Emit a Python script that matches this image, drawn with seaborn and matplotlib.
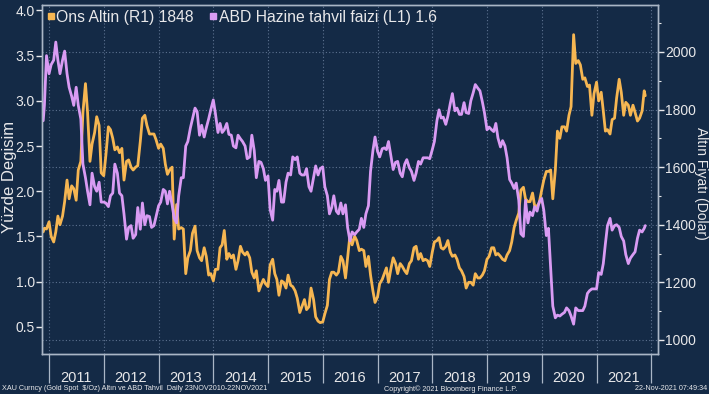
import numpy as np
import pandas as pd
import matplotlib
matplotlib.use("Agg")
import matplotlib.pyplot as plt
import matplotlib.dates as mdates
from matplotlib.lines import Line2D
from matplotlib.ticker import FixedLocator, MultipleLocator, FormatStrFormatter, NullFormatter
import seaborn as sns

# ---------------- data (semi-monthly readings: 1st & 15th) ----------------
# US 10Y Treasury yield (left axis)
tsy_2010 = [2.78, 2.95, 3.50]  # 23 Nov, 1 Dec, 15 Dec
tsy_2011 = [3.30, 3.40, 3.45, 3.65, 3.45, 3.30, 3.45, 3.55, 3.30, 3.15, 3.05, 2.95,
            3.15, 2.95, 2.80, 2.30, 2.15, 2.00, 1.85, 2.20, 2.05, 2.00, 2.10, 1.88]
tsy_2012 = [1.88, 1.87, 1.83, 1.95, 1.98, 2.30, 2.20, 1.98, 1.95, 1.75, 1.47, 1.60,
            1.62, 1.48, 1.52, 1.82, 1.58, 1.87, 1.63, 1.73, 1.72, 1.60, 1.62, 1.72]
tsy_2013 = [1.84, 1.88, 2.02, 2.00, 1.86, 2.00, 1.85, 1.70, 1.65, 1.95, 2.15, 2.15,
            2.50, 2.55, 2.70, 2.80, 2.92, 2.88, 2.62, 2.73, 2.60, 2.70, 2.80, 2.90]
tsy_2014 = [3.01, 2.86, 2.65, 2.75, 2.65, 2.68, 2.75, 2.63, 2.62, 2.50, 2.48, 2.62,
            2.58, 2.55, 2.50, 2.36, 2.38, 2.62, 2.45, 2.15, 2.33, 2.32, 2.25, 2.12]
tsy_2015 = [2.17, 1.80, 1.68, 2.02, 2.00, 2.12, 1.88, 1.88, 2.10, 2.20, 2.18, 2.38,
            2.35, 2.38, 2.20, 2.18, 2.18, 2.25, 2.05, 2.00, 2.15, 2.28, 2.18, 2.25]
tsy_2016 = [2.27, 2.05, 1.95, 1.75, 1.82, 1.95, 1.78, 1.75, 1.87, 1.75, 1.85, 1.60,
            1.45, 1.55, 1.52, 1.55, 1.58, 1.70, 1.60, 1.75, 1.84, 2.22, 2.45, 2.60]
tsy_2017 = [2.44, 2.38, 2.47, 2.48, 2.46, 2.55, 2.38, 2.24, 2.32, 2.33, 2.20, 2.16,
            2.30, 2.35, 2.26, 2.22, 2.12, 2.20, 2.33, 2.30, 2.37, 2.37, 2.37, 2.36]
tsy_2018 = [2.46, 2.55, 2.78, 2.90, 2.81, 2.82, 2.74, 2.83, 2.97, 3.08, 2.89, 2.92,
            2.85, 2.85, 2.98, 2.87, 2.86, 3.00, 3.09, 3.18, 3.14, 3.11, 2.99, 2.87]
tsy_2019 = [2.68, 2.71, 2.68, 2.66, 2.75, 2.59, 2.49, 2.56, 2.50, 2.37, 2.13, 2.09,
            2.03, 2.09, 1.90, 1.53, 1.50, 1.90, 1.65, 1.77, 1.73, 1.83, 1.78, 1.88]
tsy_2020 = [1.92, 1.79, 1.51, 1.59, 1.15, 0.73, 0.60, 0.63, 0.62, 0.64, 0.66, 0.71,
            0.68, 0.62, 0.53, 0.71, 0.68, 0.68, 0.68, 0.73, 0.87, 0.90, 0.92, 0.92]
tsy_2021 = [0.92, 1.10, 1.08, 1.20, 1.42, 1.62, 1.70, 1.57, 1.62, 1.63, 1.60, 1.50,
            1.45, 1.30, 1.20, 1.26, 1.30, 1.33, 1.48, 1.57, 1.55, 1.59, 1.62]  # .. 22 Nov

# Gold spot, USD/oz (right axis)
gold_2010 = [1375, 1388, 1385]
gold_2011 = [1410, 1360, 1340, 1375, 1430, 1400, 1430, 1480, 1555, 1490, 1535, 1525,
             1485, 1590, 1620, 1790, 1890, 1790, 1620, 1680, 1720, 1775, 1745, 1580]
gold_2012 = [1570, 1640, 1740, 1730, 1700, 1660, 1670, 1650, 1665, 1555, 1620, 1625,
             1600, 1590, 1600, 1605, 1690, 1770, 1780, 1745, 1715, 1715, 1715, 1695]
gold_2013 = [1665, 1680, 1665, 1610, 1575, 1590, 1600, 1350, 1470, 1385, 1390, 1385,
             1230, 1285, 1310, 1370, 1395, 1310, 1285, 1275, 1320, 1290, 1225, 1230]
gold_2014 = [1205, 1245, 1245, 1320, 1330, 1380, 1280, 1300, 1285, 1295, 1245, 1275,
             1325, 1305, 1295, 1305, 1285, 1235, 1215, 1240, 1170, 1190, 1210, 1195]
gold_2015 = [1185, 1260, 1280, 1230, 1210, 1155, 1205, 1200, 1180, 1225, 1190, 1185,
             1170, 1145, 1095, 1115, 1140, 1105, 1115, 1180, 1140, 1080, 1065, 1060]
gold_2016 = [1062, 1090, 1120, 1210, 1235, 1235, 1225, 1235, 1290, 1275, 1215, 1285,
             1365, 1330, 1360, 1345, 1310, 1315, 1310, 1255, 1290, 1225, 1170, 1130]
gold_2017 = [1150, 1195, 1210, 1230, 1250, 1200, 1250, 1285, 1265, 1230, 1265, 1255,
             1240, 1230, 1265, 1275, 1320, 1325, 1280, 1300, 1275, 1280, 1275, 1255]
gold_2018 = [1305, 1340, 1345, 1355, 1320, 1315, 1325, 1345, 1305, 1290, 1295, 1280,
             1250, 1240, 1220, 1180, 1200, 1200, 1190, 1230, 1215, 1215, 1225, 1240]
gold_2019 = [1280, 1290, 1320, 1320, 1295, 1300, 1290, 1280, 1275, 1295, 1310, 1340,
             1390, 1415, 1440, 1520, 1530, 1490, 1480, 1480, 1510, 1465, 1465, 1475]
gold_2020 = [1520, 1555, 1585, 1585, 1590, 1490, 1590, 1725, 1700, 1740, 1740, 1725,
             1780, 1810, 2060, 1960, 1970, 1955, 1905, 1910, 1880, 1885, 1780, 1855]
gold_2021 = [1895, 1830, 1860, 1795, 1725, 1730, 1715, 1765, 1770, 1840, 1905, 1860,
             1780, 1825, 1815, 1780, 1815, 1790, 1760, 1770, 1795, 1865, 1848]

left_ticks = [0.5, 1.0, 1.5, 2.0, 2.5, 3.0, 3.5, 4.0]
right_ticks = [1000, 1200, 1400, 1600, 1800, 2000]
left_label = "Yüzde Degisim"
right_label = "Altın Fiyatı (Dolar)"
legend_gold = "Ons Altin (R1) 1848"
legend_tsy = "ABD Hazine tahvil faizi (L1) 1.6"
foot_left = "XAU Curncy (Gold Spot  $/Oz) Altın ve ABD Tahvil  Daily 23NOV2010-22NOV2021"
foot_mid = "Copyright\u00a9 2021 Bloomberg Finance L.P."
foot_right = "22-Nov-2021 07:49:34"

dates = (pd.to_datetime(["2010-11-23"])
         .append(pd.date_range("2010-12-01", "2021-11-15", freq="SMS"))
         .append(pd.to_datetime(["2021-11-22"])))
tsy = (tsy_2010 + tsy_2011 + tsy_2012 + tsy_2013 + tsy_2014 + tsy_2015 + tsy_2016 +
       tsy_2017 + tsy_2018 + tsy_2019 + tsy_2020 + tsy_2021)
gold = (gold_2010 + gold_2011 + gold_2012 + gold_2013 + gold_2014 + gold_2015 + gold_2016 +
        gold_2017 + gold_2018 + gold_2019 + gold_2020 + gold_2021)
df = pd.DataFrame({"date": dates, "tsy": tsy, "gold": gold})

# ---------------- style ----------------
BG = "#142a46"
TXT = "#e8e8ea"
ORANGE = "#f6b652"
PURPLE = "#d99bf3"
GRID = "#5d7290"
SPINE = "#aab6c6"

sns.set_theme(style="dark")
plt.rcParams["font.family"] = ["Liberation Sans", "DejaVu Sans"]

fig = plt.figure(figsize=(7.09, 3.94), dpi=100, facecolor=BG)
W, H = 709, 394
# host axes: gold (right scale) + year axis; twin axes: yield (left scale)
ax = fig.add_axes([42 / W, 1 - 354 / H, (658 - 42) / W, (354 - 5) / H])
axl = ax.twinx()
ax.set_zorder(2)
axl.set_zorder(3)
ax.patch.set_visible(False)
axl.patch.set_visible(False)

sns.lineplot(data=df, x="date", y="gold", ax=ax, color=ORANGE, lw=2.0)
sns.lineplot(data=df, x="date", y="tsy", ax=axl, color=PURPLE, lw=2.0)

ax.set_xlim(pd.Timestamp("2010-11-15"), pd.Timestamp("2022-02-15"))
ax.set_ylim(951, 2163)
axl.set_ylim(0.20, 4.06)

# put the scales on their sides
ax.yaxis.tick_right()
axl.yaxis.tick_left()

# gold scale (right)
ax.yaxis.set_major_locator(FixedLocator(right_ticks))
ax.yaxis.set_minor_locator(MultipleLocator(100))
ax.yaxis.set_major_formatter(FormatStrFormatter("%d"))
ax.tick_params(axis="y", which="major", direction="out", length=4, width=1,
               color=TXT, labelcolor=TXT, labelsize=10, pad=1,
               left=False, labelleft=False, right=True, labelright=True)
ax.tick_params(axis="y", which="minor", direction="out", length=2.5, width=0.8,
               color=TXT, left=False, right=True)

# yield scale (left)
axl.yaxis.set_major_locator(FixedLocator(left_ticks))
axl.yaxis.set_major_formatter(FormatStrFormatter("%.1f"))
axl.tick_params(axis="y", which="major", direction="out", length=4, width=1,
                color=TXT, labelcolor=TXT, labelsize=10, pad=1,
                left=True, labelleft=True, right=False, labelright=False)

# x axis: year separators + centred year labels
ax.xaxis.set_major_locator(mdates.YearLocator(1, month=1, day=1))
ax.xaxis.set_major_formatter(NullFormatter())
ax.xaxis.set_minor_locator(mdates.YearLocator(1, month=7, day=1))
ax.xaxis.set_minor_formatter(mdates.DateFormatter("%Y"))
ax.tick_params(axis="x", which="major", direction="out", length=21, width=0.9,
               color=SPINE, bottom=True)
ax.tick_params(axis="x", which="minor", length=0, pad=12, labelsize=10.5,
               labelcolor=TXT, bottom=True)

# grids (on the host, below both lines)
ax.grid(False)
axl.grid(False)
ax.grid(axis="x", which="major", color=GRID, ls=(0, (1, 2)), lw=0.8)
ax.grid(axis="y", which="major", color=GRID, ls=(0, (1, 2)), lw=0.8)

for a in (ax, axl):
    for s in a.spines.values():
        s.set_color(SPINE)
        s.set_linewidth(1.0)
        s.set_visible(True)

ax.set_xlabel("")
ax.set_ylabel("")
axl.set_xlabel("")
axl.set_ylabel("")

# legend
handles = [Line2D([], [], ls="", marker="s", ms=5, color=ORANGE),
           Line2D([], [], ls="", marker="s", ms=5, color=PURPLE)]
leg = axl.legend(handles, [legend_gold, legend_tsy], ncol=2, loc="upper left",
                 bbox_to_anchor=(0.0, 1.0), frameon=False, fontsize=11.3,
                 handlelength=0.5, handletextpad=0.1, columnspacing=1.0,
                 borderpad=0.1, borderaxespad=0.2, labelcolor=TXT)

# axis titles and footer
fig.text(10 / W, 1 - 177 / H, left_label, color=TXT, fontsize=12,
         rotation=90, ha="center", va="center")
fig.text(701 / W, 1 - 183 / H, right_label, color=TXT, fontsize=10,
         rotation=270, ha="center", va="center")
fig.text(2 / W, 1 - 389 / H, foot_left, color=TXT, fontsize=5.2, ha="left", va="center")
fig.text(451 / W, 1 - 389 / H, foot_mid, color=TXT, fontsize=5.2, ha="center", va="center")
fig.text(707 / W, 1 - 389 / H, foot_right, color=TXT, fontsize=5.2, ha="right", va="center")

fig.savefig("out.png", dpi=100, facecolor=BG)
